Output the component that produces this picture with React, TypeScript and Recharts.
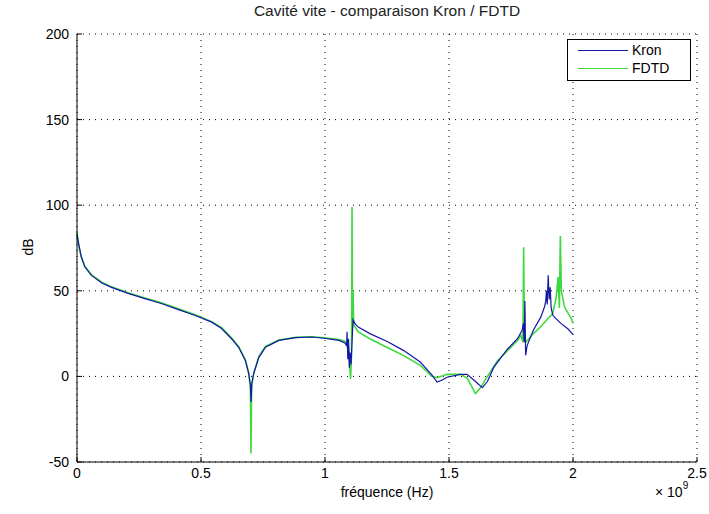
import { LineChart, Line, XAxis, YAxis, CartesianGrid } from 'recharts'

// frequency in units of 1e9 Hz, level in dB
const kronFreq = [
  0, 0.005, 0.017, 0.031, 0.058, 0.1, 0.139, 0.206, 0.274, 0.34, 0.409, 0.477, 0.543, 0.583,
  0.623, 0.652, 0.679, 0.692, 0.699, 0.702, 0.705, 0.713, 0.733, 0.76, 0.814, 0.881, 0.947,
  0.996, 1.057, 1.08, 1.087, 1.089, 1.092, 1.095, 1.098, 1.101, 1.105, 1.109, 1.113, 1.12,
  1.134, 1.181, 1.249, 1.316, 1.384, 1.43, 1.452, 1.475, 1.492, 1.546, 1.573, 1.607, 1.634,
  1.655, 1.681, 1.736, 1.776, 1.795, 1.8, 1.803, 1.806, 1.809, 1.815, 1.84, 1.87, 1.885, 1.89,
  1.893, 1.896, 1.9, 1.904, 1.908, 1.912, 1.918, 1.925, 1.952, 1.979, 2.0,
]
const kronDb = [
  83, 79, 70, 64, 59, 54.5, 52, 48.5, 45.4, 42.6, 39, 35.6, 31.7, 28,
  22, 17, 9.3, 2, -5, -15, -4, 2, 11, 17, 21, 22.6, 23,
  22.3, 21, 19.5, 18, 26, 10, 22, 5, 14, 7, 20, 33, 31,
  28.8, 25, 20.5, 15.2, 8.4, 1, -3.3, -2, -0.5, 1.2, 1.2, -3, -6.6,
  -3, 5.4, 16, 22, 27, 31, 20, 44, 12.3, 18, 27, 34.6, 40.5, 44,
  50, 42, 59, 45, 52, 40, 36, 34.6, 30.8, 27.8, 24.5,
]

const fdtdFreq = [
  0, 0.005, 0.017, 0.031, 0.058, 0.1, 0.139, 0.206, 0.274, 0.34, 0.409, 0.477, 0.543, 0.583,
  0.623, 0.652, 0.679, 0.692, 0.699, 0.7015, 0.704, 0.713, 0.733, 0.76, 0.814, 0.881, 0.947,
  0.996, 1.057, 1.08, 1.095, 1.103, 1.107, 1.109, 1.111, 1.113, 1.116, 1.134, 1.181, 1.249,
  1.316, 1.384, 1.43, 1.452, 1.492, 1.546, 1.573, 1.607, 1.625, 1.655, 1.695, 1.736, 1.776,
  1.79, 1.798, 1.801, 1.804, 1.81, 1.84, 1.87, 1.9, 1.918, 1.932, 1.94, 1.945, 1.949, 1.953,
  1.966, 1.993, 2.0,
]
const fdtdDb = [
  85, 77, 70, 64.5, 59.5, 55, 52.3, 48.8, 45.8, 43, 39.5, 36, 32, 28.5,
  22.5, 17.3, 9.5, 2, -6, -45, -6, 2, 11.5, 17.5, 21.3, 22.8, 23.2,
  22.6, 21.5, 20.5, 17, -1.5, 12, 99, 28, 50, 30, 26, 22, 17,
  12.3, 6.5, 0, -0.8, 1.2, 1.2, -1, -10, -7, 0, 9, 15, 21,
  24, 20, 75.5, 23, 20, 25, 29, 34, 36.6, 46, 58, 40, 82, 50,
  40.5, 33.7, 31,
]

const xTicks = [0, 0.5, 1, 1.5, 2, 2.5]
const yTicks = [-50, 0, 50, 100, 150, 200]

const kronData = kronFreq.map((f, i) => ({ f, db: kronDb[i] }))
const fdtdData = fdtdFreq.map((f, i) => ({ f, db: fdtdDb[i] }))

const FONT = 'Arial, "Liberation Sans", Helvetica, sans-serif'
const tickStyle = { fill: '#000', fontSize: 14, fontFamily: FONT }

const KRON_COLOR = '#1616a8'
const FDTD_COLOR = '#3fd93f'

export default function App() {
  return (
    <div
      style={{
        position: 'absolute',
        left: 0,
        top: 0,
        width: 709,
        height: 514,
        background: '#fff',
        fontFamily: FONT,
        color: '#000',
      }}
    >
      <LineChart
        width={709}
        height={514}
        margin={{ top: 34, right: 12, bottom: 22, left: 17 }}
      >
        <CartesianGrid stroke="#000" strokeDasharray="1 5" />
        <XAxis
          type="number"
          dataKey="f"
          domain={[0, 2.5]}
          ticks={xTicks}
          height={30}
          tickSize={-5}
          tickMargin={11}
          stroke="#000"
          tick={tickStyle}
          allowDuplicatedCategory={false}
        />
        <XAxis
          xAxisId="top"
          orientation="top"
          type="number"
          dataKey="f"
          domain={[0, 2.5]}
          ticks={xTicks}
          height={0}
          tickSize={-5}
          tick={false}
          stroke="#000"
        />
        <YAxis
          type="number"
          domain={[-50, 200]}
          ticks={yTicks}
          width={60}
          tickSize={-5}
          tickMargin={13}
          stroke="#000"
          tick={tickStyle}
        />
        <YAxis
          yAxisId="right"
          orientation="right"
          type="number"
          domain={[-50, 200]}
          ticks={yTicks}
          width={0}
          tickSize={-5}
          tick={false}
          stroke="#000"
        />
        <Line
          data={fdtdData}
          dataKey="db"
          name="FDTD"
          type="linear"
          stroke={FDTD_COLOR}
          strokeWidth={1.6}
          dot={false}
          activeDot={false}
          isAnimationActive={false}
        />
        <Line
          data={kronData}
          dataKey="db"
          name="Kron"
          type="linear"
          stroke={KRON_COLOR}
          strokeWidth={1.2}
          dot={false}
          activeDot={false}
          isAnimationActive={false}
        />
      </LineChart>

      {/* title and axis labels */}
      <div
        style={{
          position: 'absolute',
          left: 77,
          width: 620,
          top: 2,
          textAlign: 'center',
          fontSize: 15.5,
          color: '#222',
        }}
      >
        Cavité vite - comparaison Kron / FDTD
      </div>
      <div
        style={{
          position: 'absolute',
          left: 77,
          width: 620,
          top: 484,
          textAlign: 'center',
          fontSize: 14,
        }}
      >
        fréquence (Hz)
      </div>
      <div
        style={{
          position: 'absolute',
          left: 28,
          top: 247,
          fontSize: 14,
          transform: 'translate(-50%, -50%) rotate(-90deg)',
        }}
      >
        dB
      </div>
      <div style={{ position: 'absolute', left: 655, top: 482, fontSize: 14 }}>
        × 10<sup style={{ fontSize: 10, position: 'relative', top: -2 }}>9</sup>
      </div>

      {/* legend */}
      <div
        style={{
          position: 'absolute',
          left: 567,
          top: 39,
          width: 122,
          height: 40,
          border: '1px solid #000',
          background: '#fff',
          fontSize: 14,
        }}
      >
        {[
          { name: 'Kron', color: KRON_COLOR, w: 1.2 },
          { name: 'FDTD', color: FDTD_COLOR, w: 1.6 },
        ].map((s, i) => (
          <div
            key={s.name}
            style={{
              position: 'absolute',
              left: 10,
              top: 2 + i * 18,
              display: 'flex',
              alignItems: 'center',
              height: 16,
            }}
          >
            <div style={{ width: 50, height: 0, borderTop: `${s.w}px solid ${s.color}` }} />
            <span style={{ marginLeft: 4 }}>{s.name}</span>
          </div>
        ))}
      </div>
    </div>
  )
}
